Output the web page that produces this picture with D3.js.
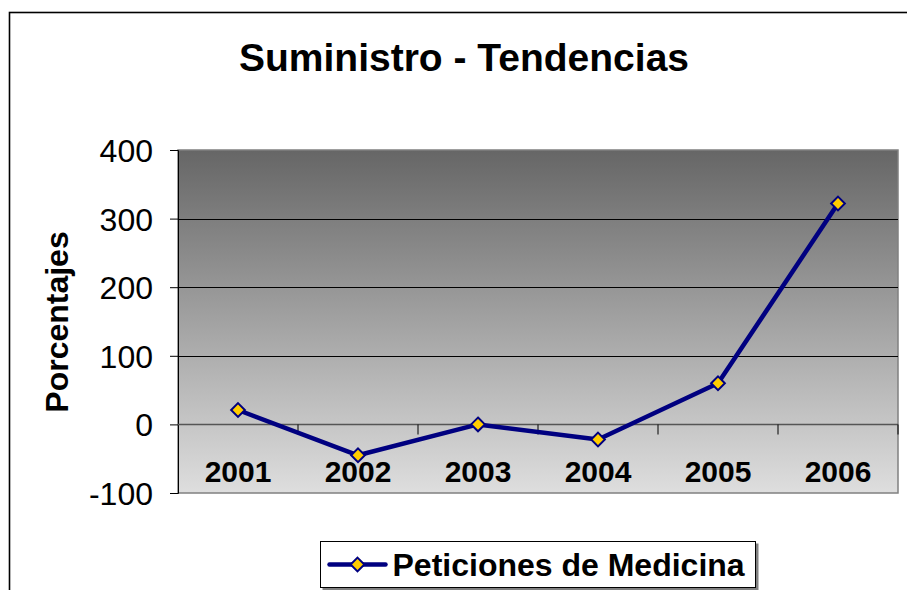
<!DOCTYPE html>
<html>
<head>
<meta charset="utf-8">
<script src="https://cdn.jsdelivr.net/npm/d3@7"></script>
<style>
  body { margin: 0; background: #fff; }
  svg { display: block; font-family: Arial, "Liberation Sans", sans-serif; }
</style>
</head>
<body>
<svg id="chart" width="907" height="590"></svg>
<script>
const years = ['2001', '2002', '2003', '2004', '2005', '2006'];
const peticiones = [21, -45, 0, -22, 60, 322];
const yTicks = [-100, 0, 100, 200, 300, 400];
const chartTitle = 'Suministro - Tendencias';
const yTitle = 'Porcentajes';
const seriesName = 'Peticiones de Medicina';

const margin = { top: 150, right: 9, bottom: 97, left: 178 };
const width = 907 - margin.left - margin.right;
const height = 590 - margin.top - margin.bottom;

const svg = d3.select('#chart');

// outer chart frame
svg.append('rect')
    .attr('x', 9.5)
    .attr('y', 12.5)
    .attr('width', 910)
    .attr('height', 600)
    .attr('fill', '#fff')
    .attr('stroke', '#000')
    .attr('stroke-width', 1.6);

const defs = svg.append('defs');
const grad = defs.append('linearGradient')
    .attr('id', 'plotGrad')
    .attr('x1', 0).attr('y1', 0).attr('x2', 0).attr('y2', 1);
grad.append('stop').attr('offset', '0%').attr('stop-color', '#666666');
grad.append('stop').attr('offset', '100%').attr('stop-color', '#dedede');

const chart = svg.append('g')
    .attr('transform', `translate(${margin.left},${margin.top})`);

const xScale = d3.scaleBand()
    .domain(years)
    .range([0, width]);

const yScale = d3.scaleLinear()
    .domain([-100, 400])
    .range([height, 0]);

chart.append('rect')
    .attr('width', width)
    .attr('height', height)
    .attr('fill', 'url(#plotGrad)')
    .attr('stroke', '#808080')
    .attr('stroke-width', 1.5);

// gridlines
chart.append('g')
    .selectAll('line')
    .data(yTicks.filter(d => d > 0 && d < 400))
    .join('line')
    .attr('x1', 0)
    .attr('x2', width)
    .attr('y1', d => Math.round(yScale(d)) + 0.5)
    .attr('y2', d => Math.round(yScale(d)) + 0.5)
    .attr('stroke', '#000')
    .attr('stroke-width', 1);

// y axis (plain hyphen for negatives, like the original)
const yAxis = chart.append('g')
    .call(d3.axisLeft(yScale)
        .tickValues(yTicks)
        .tickSize(8)
        .tickPadding(17)
        .tickFormat(d => String(d)));
yAxis.select('.domain').attr('stroke', '#000').attr('d', `M-8,0.5H0.5V${height + 0.5}H-8`);
yAxis.selectAll('.tick text')
    .style('font-size', '32px')
    .attr('fill', '#000')
    .attr('dy', '0.36em');

// zero line with category ticks
const zeroY = Math.round(yScale(0)) + 0.5;
chart.append('line')
    .attr('x1', 0)
    .attr('x2', width)
    .attr('y1', zeroY)
    .attr('y2', zeroY)
    .attr('stroke', '#555')
    .attr('stroke-width', 1.5);

chart.append('g')
    .selectAll('line')
    .data(years.slice(1).concat(['end']))
    .join('line')
    .attr('x1', d => d === 'end' ? width : xScale(d))
    .attr('x2', d => d === 'end' ? width : xScale(d))
    .attr('y1', zeroY)
    .attr('y2', zeroY + 10)
    .attr('stroke', '#000')
    .attr('stroke-width', 1);

chart.append('g')
    .selectAll('text')
    .data(years)
    .join('text')
    .attr('x', d => xScale(d) + xScale.bandwidth() / 2)
    .attr('y', 482 - margin.top)
    .attr('text-anchor', 'middle')
    .style('font-size', '30px')
    .style('font-weight', 'bold')
    .text(d => d);

// series line
const data = d3.zip(years, peticiones);
chart.append('path')
    .datum(data)
    .attr('fill', 'none')
    .attr('stroke', '#000080')
    .attr('stroke-width', 4.5)
    .attr('stroke-linejoin', 'round')
    .attr('d', d3.line()
        .x(d => xScale(d[0]) + xScale.bandwidth() / 2)
        .y(d => yScale(d[1]))
    );

const diamond = d3.symbol().type(d3.symbolDiamond2).size(120);
chart.append('g')
    .selectAll('path')
    .data(data)
    .join('path')
    .attr('transform', d => `translate(${xScale(d[0]) + xScale.bandwidth() / 2},${yScale(d[1])})`)
    .attr('d', diamond)
    .attr('fill', '#ffcc00')
    .attr('stroke', '#000080')
    .attr('stroke-width', 2);

// title
svg.append('text')
    .attr('x', 464)
    .attr('y', 71)
    .attr('text-anchor', 'middle')
    .style('font-size', '39px')
    .style('font-weight', 'bold')
    .text(chartTitle);

svg.append('text')
    .attr('transform', 'translate(68,322) rotate(-90)')
    .attr('text-anchor', 'middle')
    .style('font-size', '32px')
    .style('font-weight', 'bold')
    .text(yTitle);

// legend
const legend = svg.append('g').attr('transform', 'translate(320.5,541.5)');
legend.append('rect')
    .attr('x', 2).attr('y', 2)
    .attr('width', 436).attr('height', 47)
    .attr('fill', '#808080');
legend.append('rect')
    .attr('width', 435).attr('height', 46)
    .attr('fill', '#fff')
    .attr('stroke', '#000')
    .attr('stroke-width', 1);
legend.append('line')
    .attr('x1', 9).attr('x2', 65)
    .attr('y1', 23).attr('y2', 23)
    .attr('stroke', '#000080')
    .attr('stroke-width', 4.5)
    .attr('stroke-linecap', 'round');
legend.append('path')
    .attr('transform', 'translate(37,23)')
    .attr('d', diamond)
    .attr('fill', '#ffcc00')
    .attr('stroke', '#000080')
    .attr('stroke-width', 2);
legend.append('text')
    .attr('x', 72)
    .attr('y', 34)
    .style('font-size', '32px')
    .style('font-weight', 'bold')
    .text(seriesName);
</script>
</body>
</html>
